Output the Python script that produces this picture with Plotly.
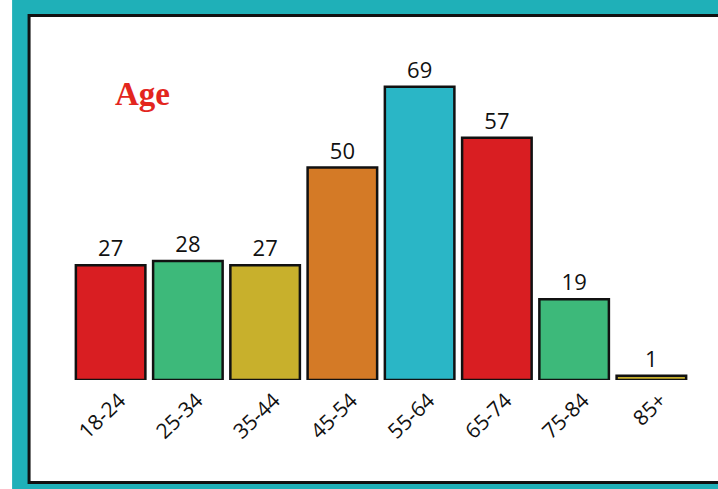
import plotly.graph_objects as go

age_groups = ["18-24", "25-34", "35-44", "45-54", "55-64", "65-74", "75-84", "85+"]
counts = [27, 28, 27, 50, 69, 57, 19, 1]
bar_colors = ["#D91E22", "#3DB97A", "#C8B02C", "#D47A26", "#2AB6C6", "#D91E22", "#3DB97A", "#C8B02C"]

W, H = 718, 489
PLOT_L, PLOT_R, PLOT_T, PLOT_B = 71.5, 690.5, 40, 380
TEAL = "#1FB0B8"


def px_x(px):
    return (px - PLOT_L) / (PLOT_R - PLOT_L)


def px_y(py):
    return (PLOT_B - py) / (PLOT_B - PLOT_T)


fig = go.Figure()
fig.add_trace(
    go.Bar(
        x=age_groups,
        y=counts,
        marker={"color": bar_colors, "line": {"color": "#111111", "width": 2.5}},
        text=counts,
        textposition="outside",
        textfont={"family": "Open Sans, sans-serif", "size": 22, "color": "#111111"},
        cliponaxis=False,
        width=0.9,
    )
)

fig.update_layout(
    width=W,
    height=H,
    margin={"l": PLOT_L, "r": W - PLOT_R, "t": PLOT_T, "b": H - PLOT_B, "autoexpand": False},
    paper_bgcolor="white",
    plot_bgcolor="rgba(0,0,0,0)",
    showlegend=False,
    shapes=[
        # teal frame
        dict(type="rect", xref="paper", yref="paper", layer="below",
             x0=px_x(11.5), x1=px_x(W + 10), y0=px_y(-5), y1=px_y(H + 5),
             fillcolor=TEAL, line={"width": 0}),
        # white card with black outline
        dict(type="rect", xref="paper", yref="paper", layer="below",
             x0=px_x(28.5), x1=px_x(W + 10), y0=px_y(15.5), y1=px_y(482.5),
             fillcolor="white", line={"color": "#111111", "width": 3}),
    ],
    annotations=[
        dict(text="<b>Age</b>", xref="paper", yref="paper",
             x=px_x(113), y=px_y(94), xanchor="left", yanchor="middle",
             showarrow=False,
             font={"family": "Liberation Serif, DejaVu Serif, serif", "size": 33, "color": "#E3261E"}),
    ],
)
fig.update_xaxes(
    tickangle=-44,
    ticklabelshift=9,
    ticklabelstandoff=3,
    tickfont={"family": "Open Sans, sans-serif", "size": 21, "color": "#111111"},
    showgrid=False, zeroline=False, showline=False, ticks="",
)
fig.update_yaxes(range=[0, 80], visible=False, showgrid=False, zeroline=False)

fig.write_html(
    "out.html",
    config={"displayModeBar": False},
    post_script="document.body.style.margin='0px';",
)
